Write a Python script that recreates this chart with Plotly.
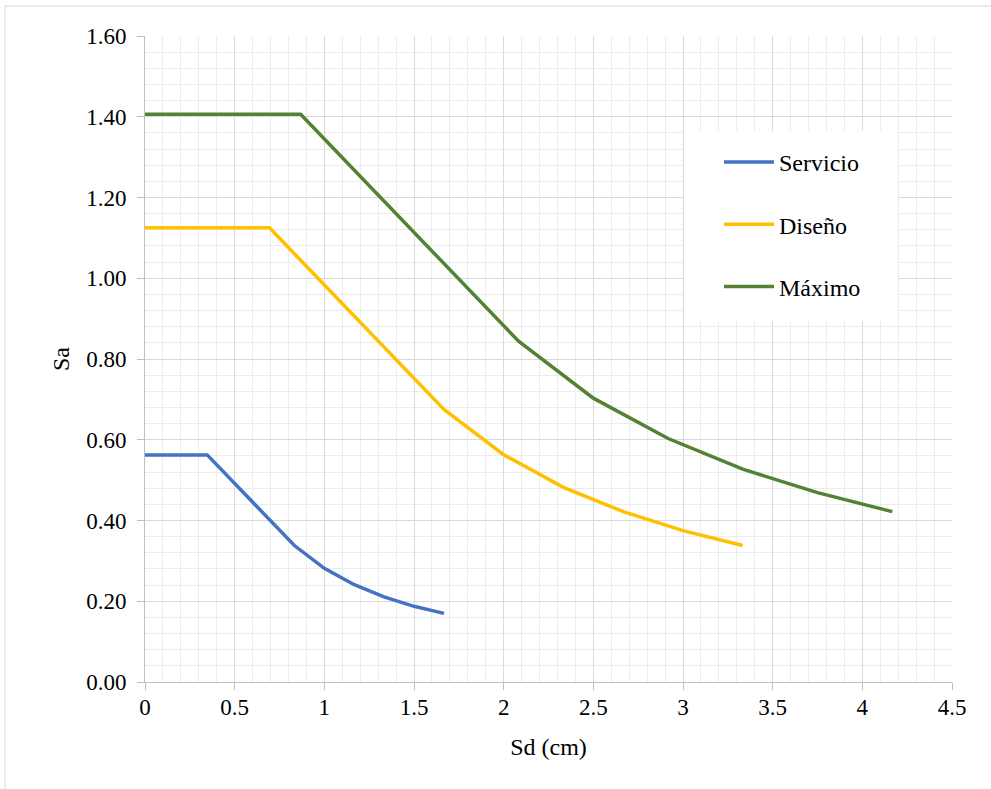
import plotly.graph_objects as go

# Spectral displacement (cm) vs spectral acceleration for three hazard levels
sd_servicio = [0, 0.347, 0.833, 1.0, 1.167, 1.333, 1.5, 1.667]
sa_servicio = [0.5625, 0.5625, 0.338, 0.2815, 0.241, 0.211, 0.1875, 0.17]

sd_diseno = [0, 0.694, 1.667, 2.0, 2.333, 2.667, 3.0, 3.333]
sa_diseno = [1.125, 1.125, 0.675, 0.563, 0.482, 0.422, 0.375, 0.338]

sd_maximo = [0, 0.868, 2.083, 2.5, 2.917, 3.333, 3.75, 4.167]
sa_maximo = [1.406, 1.406, 0.844, 0.703, 0.603, 0.527, 0.469, 0.422]

series = [
    ("Servicio", sd_servicio, sa_servicio, "#4472C4"),
    ("Diseño", sd_diseno, sa_diseno, "#FFC000"),
    ("Máximo", sd_maximo, sa_maximo, "#548235"),
]

FONT = "Liberation Serif"
TICK_SIZE = 23
TEXT_SIZE = 24

fig = go.Figure()
for name, xs, ys, color in series:
    fig.add_trace(go.Scatter(
        x=xs, y=ys, mode="lines", name=name, legendgroup=name,
        line=dict(color=color, width=3.5),
    ))

W, H = 991, 789
L, R, T, B = 145, 39, 36, 107
pw, ph = W - L - R, H - T - B


def px_x(p):
    return (p - L) / pw


def px_y(p):
    return (H - B - p) / ph


fig.update_xaxes(
    range=[0, 4.5], dtick=0.5, tick0=0,
    showline=True, linecolor="#bfbfbf", linewidth=1,
    ticks="outside", ticklen=7, tickcolor="#bfbfbf",
    showgrid=True, gridcolor="#d9d9d9", gridwidth=1, zeroline=False,
    tickfont_family=FONT, tickfont_size=TICK_SIZE, tickfont_color="#000000",
    minor=dict(dtick=0.1, showgrid=True, gridcolor="#ececec", gridwidth=1, ticks=""),
    title_text="Sd (cm)", title_font_family=FONT, title_font_size=TEXT_SIZE,
    title_font_color="#000000", title_standoff=19,
    ticklabelstandoff=-3,
)
fig.update_yaxes(
    range=[0, 1.6], dtick=0.2, tick0=0, tickformat=".2f",
    showline=True, linecolor="#bfbfbf", linewidth=1,
    ticks="outside", ticklen=7, tickcolor="#bfbfbf",
    showgrid=True, gridcolor="#d9d9d9", gridwidth=1, zeroline=False,
    tickfont_family=FONT, tickfont_size=TICK_SIZE, tickfont_color="#000000",
    minor=dict(dtick=0.04, showgrid=True, gridcolor="#ececec", gridwidth=1, ticks=""),
    title_text="Sa", title_font_family=FONT, title_font_size=TEXT_SIZE,
    title_font_color="#000000", title_standoff=9,
    ticklabelstandoff=6,
)

fig.update_layout(
    width=W, height=H,
    margin=dict(l=L, r=R, t=T, b=B),
    paper_bgcolor="#ffffff", plot_bgcolor="#ffffff",
    font_family=FONT, font_size=TICK_SIZE, font_color="#000000",
    showlegend=True,
    legend=dict(
        x=px_x(719), y=px_y(140), xanchor="left", yanchor="top",
        bgcolor="rgba(0,0,0,0)", borderwidth=0,
        font=dict(family=FONT, size=TEXT_SIZE, color="#000000"),
        tracegroupgap=28, itemwidth=50,
    ),
    shapes=[
        # white panel behind the legend
        dict(type="rect", xref="paper", yref="paper",
             x0=px_x(684), x1=px_x(898), y0=px_y(321), y1=px_y(131),
             fillcolor="#ffffff", line=dict(width=0), layer="above"),
        # outer chart border
        dict(type="rect", xref="paper", yref="paper",
             x0=px_x(5), x1=px_x(1000), y0=px_y(800), y1=px_y(6),
             fillcolor="rgba(0,0,0,0)", line=dict(color="#d9d9d9", width=1),
             layer="below"),
    ],
)

fig.write_html("out.html")
